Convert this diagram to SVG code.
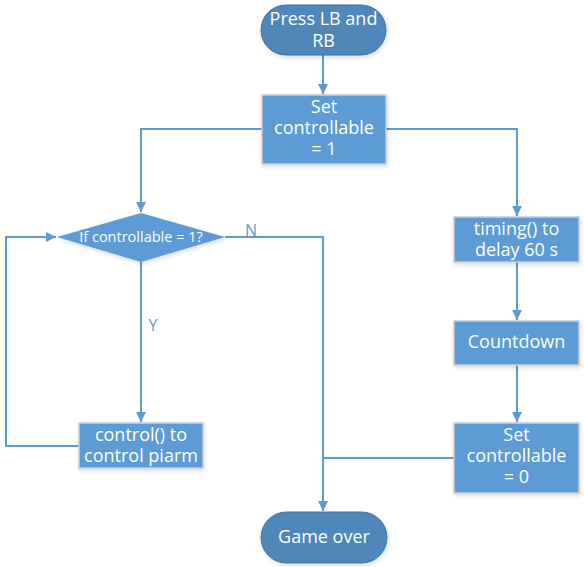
<svg xmlns="http://www.w3.org/2000/svg" width="584" height="567" viewBox="0 0 584 567">
  <defs>
    <marker id="arrow" viewBox="0 0 10 10" refX="10" refY="5" markerWidth="10" markerHeight="10" markerUnits="userSpaceOnUse" orient="auto">
      <path d="M0,0 L10,5 L0,10 z" fill="#5B9BD5"/>
    </marker>
    <filter id="shadow" x="-10%" y="-10%" width="130%" height="140%">
      <feDropShadow dx="1" dy="2" stdDeviation="2" flood-color="#000" flood-opacity="0.15"/>
    </filter>
  </defs>
  <style>
    .box { fill: #5B9BD5; stroke: #C9CED4; stroke-width: 1.5; filter: url(#shadow); }
    .term { fill: #4F87BA; stroke: #41719C; stroke-width: 1; filter: url(#shadow); }
    .lbl { fill: #FFFFFF; font-family: "Open Sans", "Noto Sans", sans-serif; font-size: 18px; text-anchor: middle; }
    .small { font-size: 14.5px; }
    .edge { fill: none; stroke: #5B9BD5; stroke-width: 2; }
    .tag { fill: #5B9BD5; font-family: "Open Sans", "Noto Sans", sans-serif; font-size: 16px; text-anchor: middle; }
  </style>

  <g id="connectors">
    <path class="edge" d="M323,55 V94" marker-end="url(#arrow)"/>
    <path class="edge" d="M262,129 H141 V212" marker-end="url(#arrow)"/>
    <path class="edge" d="M386,129 H517 V216" marker-end="url(#arrow)"/>
    <path class="edge" d="M141,262 V422" marker-end="url(#arrow)"/>
    <path class="edge" d="M80,446 H6 V237 H56" marker-end="url(#arrow)"/>
    <path class="edge" d="M225,237 H323 V511" marker-end="url(#arrow)"/>
    <path class="edge" d="M517,262 V320" marker-end="url(#arrow)"/>
    <path class="edge" d="M517,365 V422" marker-end="url(#arrow)"/>
    <path class="edge" d="M454,458 H323"/>
    <text class="tag" x="251" y="236">N</text>
    <text class="tag" x="153" y="331">Y</text>
  </g>

  <g id="start">
    <rect class="term" x="261" y="5" width="125" height="50" rx="25"/>
    <text class="lbl" x="323.5" y="25">Press LB and</text>
    <text class="lbl" x="323.5" y="47">RB</text>
  </g>

  <g id="set1">
    <rect class="box" x="262" y="95" width="124" height="69"/>
    <text class="lbl" x="324" y="113">Set</text>
    <text class="lbl" x="324" y="134">controllable</text>
    <text class="lbl" x="324" y="155">= 1</text>
  </g>

  <g id="decision">
    <polygon class="box" points="141,213 225,237 141,262 57,237" style="stroke:none"/>
    <text class="lbl small" x="141" y="242">If controllable = 1?</text>
  </g>

  <g id="control">
    <rect class="box" x="79" y="423" width="124" height="45"/>
    <text class="lbl" x="141" y="441">control() to</text>
    <text class="lbl" x="141" y="462">control piarm</text>
  </g>

  <g id="timing">
    <rect class="box" x="454" y="217" width="125" height="45"/>
    <text class="lbl" x="516.5" y="235">timing() to</text>
    <text class="lbl" x="516.5" y="256">delay 60 s</text>
  </g>

  <g id="countdown">
    <rect class="box" x="454" y="321" width="125" height="44"/>
    <text class="lbl" x="516.5" y="348">Countdown</text>
  </g>

  <g id="set0">
    <rect class="box" x="454" y="423" width="125" height="70"/>
    <text class="lbl" x="516.5" y="441">Set</text>
    <text class="lbl" x="516.5" y="462">controllable</text>
    <text class="lbl" x="516.5" y="483">= 0</text>
  </g>

  <g id="end">
    <rect class="term" x="261" y="512" width="126" height="51" rx="25.5"/>
    <text class="lbl" x="324" y="543">Game over</text>
  </g>
</svg>
